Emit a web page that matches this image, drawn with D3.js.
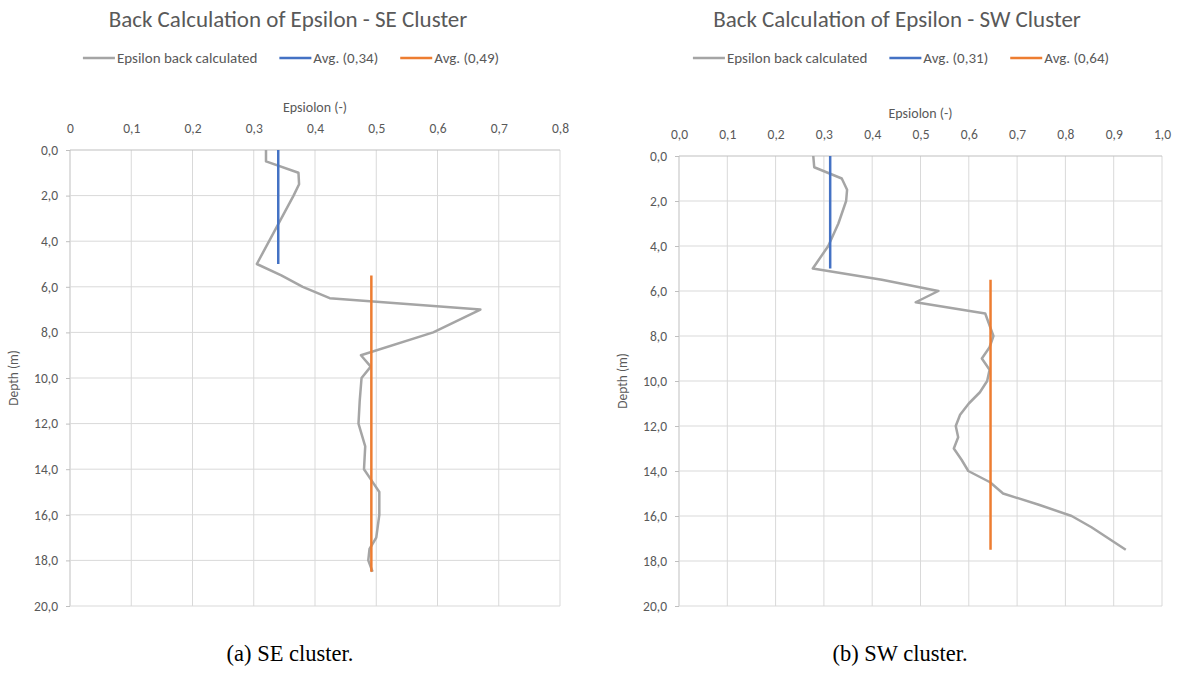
<!DOCTYPE html>
<html>
<head>
<meta charset="utf-8">
<script src="https://cdnjs.cloudflare.com/ajax/libs/d3/7.8.5/d3.min.js"></script>
<style>
  body { margin: 0; background: #fff; }
  svg text { font-family: Calibri, Carlito, Lato, sans-serif; fill: #595959; }
  .caption { font-family: "Liberation Serif", "DejaVu Serif", serif !important; fill: #000 !important; }
</style>
</head>
<body>
<svg id="fig" width="1190" height="674"></svg>
<script>
// ---- data ----
var seDepth = [0, 0.5, 1.0, 1.5, 2.0, 5.0, 5.5, 6.0, 6.5, 7.0, 8.0, 9.0, 9.5, 10.0, 11.0, 12.0, 13.0, 14.0, 14.5, 15.0, 16.0, 17.0, 17.5, 18.0, 18.5];
var seEps   = [0.32, 0.32, 0.373, 0.374, 0.365, 0.305, 0.345, 0.38, 0.424, 0.67, 0.593, 0.475, 0.491, 0.476, 0.473, 0.471, 0.482, 0.48, 0.4925, 0.505, 0.505, 0.5, 0.489, 0.487, 0.494];

var swDepth = [0, 0.5, 1.0, 1.5, 2.0, 3.0, 4.0, 5.0, 5.5, 6.0, 6.5, 7.0, 8.0, 8.5, 9.0, 9.5, 10.0, 10.5, 11.0, 11.5, 12.0, 12.5, 13.0, 13.5, 14.0, 14.5, 15.0, 15.5, 16.0, 16.5, 17.5];
var swEps   = [0.278, 0.28, 0.337, 0.348, 0.346, 0.33, 0.309, 0.277, 0.42, 0.537, 0.49, 0.634, 0.651, 0.643, 0.627, 0.643, 0.638, 0.623, 0.6, 0.582, 0.573, 0.578, 0.569, 0.585, 0.599, 0.644, 0.671, 0.745, 0.813, 0.854, 0.925];

// averages: value, depth from, depth to
var seAvgValues = [0.34, 0.492];
var seAvgFrom   = [0, 5.5];
var seAvgTo     = [5.0, 18.5];
var swAvgValues = [0.313, 0.645];
var swAvgFrom   = [0, 5.5];
var swAvgTo     = [5.0, 17.5];

var seLegend = ["Epsilon back calculated", "Avg. (0,34)", "Avg. (0,49)"];
var swLegend = ["Epsilon back calculated", "Avg. (0,31)", "Avg. (0,64)"];

var seXTicks = [0, 0.1, 0.2, 0.3, 0.4, 0.5, 0.6, 0.7, 0.8];
var seXLabels = ["0", "0,1", "0,2", "0,3", "0,4", "0,5", "0,6", "0,7", "0,8"];
var swXTicks = [0, 0.1, 0.2, 0.3, 0.4, 0.5, 0.6, 0.7, 0.8, 0.9, 1.0];
var swXLabels = ["0,0", "0,1", "0,2", "0,3", "0,4", "0,5", "0,6", "0,7", "0,8", "0,9", "1,0"];
var yTicks = [0, 2, 4, 6, 8, 10, 12, 14, 16, 18, 20];
var yLabels = ["0,0", "2,0", "4,0", "6,0", "8,0", "10,0", "12,0", "14,0", "16,0", "18,0", "20,0"];

var colors = ["#a5a5a5", "#4472c4", "#ed7d31"];


function DepthChart(cfg) {
    var self = this;
    self.cfg = cfg;
    self.svg = d3.select("#fig");
    self.init();
}

DepthChart.prototype.init = function () {
    var self = this;
    var c = self.cfg;

    self.scaleX = d3.scaleLinear()
        .domain([0, c.xMax])
        .range([c.left, c.right]);

    self.scaleY = d3.scaleLinear()
        .domain([0, 20])
        .range([c.top, c.bottom]);
};

DepthChart.prototype.draw = function () {
    var self = this;
    var c = self.cfg;
    var g = self.svg.append("g");

    // grid
    g.append("g").selectAll("line.vgrid")
        .data(c.xTicks)
        .enter().append("line")
        .attr("x1", function (d) { return self.scaleX(d); })
        .attr("x2", function (d) { return self.scaleX(d); })
        .attr("y1", c.top)
        .attr("y2", c.bottom)
        .attr("stroke", function (d) { return d === 0 ? "#bfbfbf" : "#d9d9d9"; })
        .attr("stroke-width", 1);

    g.append("g").selectAll("line.hgrid")
        .data(yTicks)
        .enter().append("line")
        .attr("x1", c.left)
        .attr("x2", c.right)
        .attr("y1", function (d) { return self.scaleY(d); })
        .attr("y2", function (d) { return self.scaleY(d); })
        .attr("stroke", function (d) { return d === 0 ? "#bfbfbf" : "#d9d9d9"; })
        .attr("stroke-width", 1);

    // axes (labels only, lines drawn by grid)
    var xAxis = d3.axisTop(self.scaleX)
        .tickValues(c.xTicks)
        .tickSize(0)
        .tickPadding(17)
        .tickFormat(function (d, i) { return c.xLabels[i]; });
    var gx = g.append("g")
        .attr("transform", "translate(0," + c.top + ")")
        .call(xAxis);
    gx.select(".domain").remove();
    gx.selectAll("text").attr("font-size", 13.5).attr("fill", "#595959");

    var yAxis = d3.axisLeft(self.scaleY)
        .tickValues(yTicks)
        .tickSize(4)
        .tickPadding(8)
        .tickFormat(function (d, i) { return yLabels[i]; });
    var gy = g.append("g")
        .attr("transform", "translate(" + c.left + ",0)")
        .call(yAxis);
    gy.select(".domain").remove();
    gy.selectAll("line").attr("stroke", "#bfbfbf");
    gy.selectAll("text").attr("font-size", 13.5).attr("fill", "#595959");

    // axis titles
    g.append("text")
        .attr("x", (c.left + c.right) / 2)
        .attr("y", c.top - 38)
        .attr("text-anchor", "middle")
        .attr("font-size", 14)
        .text("Epsiolon (-)");

    g.append("text")
        .attr("transform", "translate(" + (c.left - 52) + "," + ((c.top + c.bottom) / 2) + ") rotate(-90)")
        .attr("text-anchor", "middle")
        .attr("font-size", 13.5)
        .text("Depth (m)");

    // series
    var line = d3.line()
        .x(function (d) { return self.scaleX(d[1]); })
        .y(function (d) { return self.scaleY(d[0]); });

    g.append("path")
        .datum(d3.zip(c.depth, c.eps))
        .attr("d", line)
        .attr("fill", "none")
        .attr("stroke", colors[0])
        .attr("stroke-width", 2.5)
        .attr("stroke-linejoin", "round");

    var avgs = c.avgValues.map(function (v, i) {
        return [[c.avgFrom[i], v], [c.avgTo[i], v]];
    });

    g.selectAll(".avg")
        .data(avgs)
        .enter().append("path")
        .classed("avg", true)
        .attr("d", line)
        .attr("fill", "none")
        .attr("stroke", function (d, i) { return colors[i + 1]; })
        .attr("stroke-width", 2.5);

    // title
    g.append("text")
        .attr("x", c.titleX)
        .attr("y", 27)
        .attr("text-anchor", "middle")
        .attr("font-size", 23)
        .text(c.title);

    // legend
    var leg = g.append("g").attr("transform", "translate(0,58)");
    var items = leg.selectAll("g.item")
        .data(c.legend)
        .enter().append("g")
        .classed("item", true);
    items.append("line")
        .attr("x1", 0).attr("x2", 32)
        .attr("y1", 0).attr("y2", 0)
        .attr("stroke", function (d, i) { return colors[i]; })
        .attr("stroke-width", 2.5);
    items.append("text")
        .attr("x", 34)
        .attr("y", 5)
        .attr("font-size", 15)
        .text(function (d) { return d; });

    var widths = [];
    items.each(function () { widths.push(this.getBBox().width); });
    var total = d3.sum(widths) + 22 * (widths.length - 1);
    var pos = c.legendX - total / 2;
    items.attr("transform", function (d, i) {
        var p = pos;
        pos += widths[i] + 22;
        return "translate(" + p + ",0)";
    });

    // caption
    g.append("text")
        .classed("caption", true)
        .attr("x", c.captionX)
        .attr("y", 661)
        .attr("text-anchor", "middle")
        .attr("font-size", 22.5)
        .text(c.caption);
};

var seChart = new DepthChart({
    left: 70, right: 560, top: 150, bottom: 606, xMax: 0.8,
    xTicks: seXTicks, xLabels: seXLabels,
    depth: seDepth, eps: seEps,
    avgValues: seAvgValues, avgFrom: seAvgFrom, avgTo: seAvgTo,
    legend: seLegend, legendX: 291,
    title: "Back Calculation of Epsilon - SE Cluster", titleX: 288,
    caption: "(a) SE cluster.", captionX: 290
});
seChart.draw();

var swChart = new DepthChart({
    left: 679, right: 1162, top: 156, bottom: 606, xMax: 1.0,
    xTicks: swXTicks, xLabels: swXLabels,
    depth: swDepth, eps: swEps,
    avgValues: swAvgValues, avgFrom: swAvgFrom, avgTo: swAvgTo,
    legend: swLegend, legendX: 901,
    title: "Back Calculation of Epsilon - SW Cluster", titleX: 897,
    caption: "(b) SW cluster.", captionX: 900
});
swChart.draw();
</script>
</body>
</html>
